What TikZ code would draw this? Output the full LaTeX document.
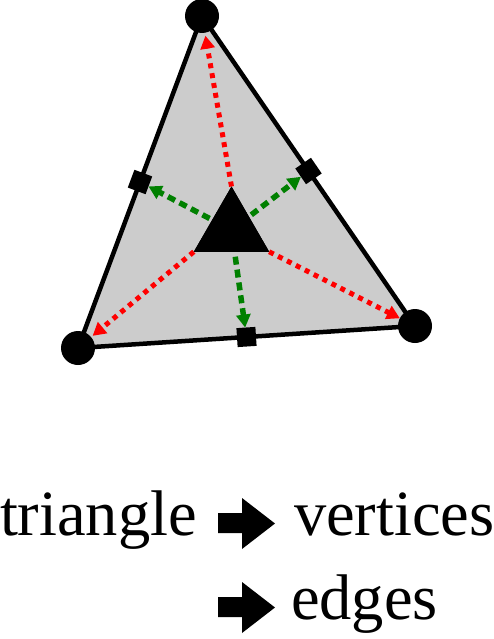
\documentclass[tikz,border=0pt]{standalone}
\usepackage{fontspec}
\setmainfont{Liberation Serif}
\usetikzlibrary{arrows.meta,shapes.geometric,calc,backgrounds}
\definecolor{facegray}{HTML}{CCCCCC}
\definecolor{edgegreen}{HTML}{008000}
\definecolor{vertred}{HTML}{FF0000}
\tikzset{
  vertexdot/.style={circle,fill=black,draw=none,minimum size=34pt,inner sep=0pt,outer sep=0pt},
  edgesq/.style={rectangle,fill=black,draw=none,minimum size=19pt,inner sep=0pt,outer sep=0pt},
  facetri/.style={regular polygon,regular polygon sides=3,fill=black,draw=none,minimum size=87pt,inner sep=0pt,outer sep=0pt},
  greenarrow/.style={edgegreen,line width=5.5pt,dash pattern=on 8pt off 5pt,-{Triangle[length=13pt,width=14pt]}},
  redarrow/.style={vertred,line width=5pt,dash pattern=on 5pt off 5pt,-{Triangle[length=13pt,width=14pt]}},
  label/.style={font=\fontsize{64.5}{70}\selectfont,inner sep=0pt,outer sep=0pt,anchor=base west},
  blockarrow/.style={fill=black,draw=none}
}
\begin{document}
\begin{tikzpicture}[x=1pt,y=-1pt]
\useasboundingbox (0,0) rectangle (494,639);
% vertices
\node[vertexdot] (top) at (202,16) {};
\node[vertexdot] (bl) at (78,348) {};
\node[vertexdot] (br) at (415,326) {};
% face
\begin{pgfonlayer}{background}
\filldraw[fill=facegray,draw=black,line width=4.5pt,line join=miter] (top.center) -- (bl.center) -- (br.center) -- cycle;
\end{pgfonlayer}
% edge midpoints
\node[edgesq,rotate=69.5] (el) at ($(top)!0.5!(bl)$) {};
\node[edgesq,rotate=-55.5] (er) at ($(top)!0.5!(br)$) {};
\node[edgesq,rotate=3.7] (eb) at ($(bl)!0.5!(br)$) {};
% centre triangle
\node[facetri] (tri) at (231.5,230) {};
% arrows
\draw[redarrow,shorten >=3pt] (tri.corner 1) -- (top);
\draw[redarrow,shorten >=2pt] (tri.corner 2) -- (bl);
\draw[redarrow] (tri.corner 3) -- (br);
\draw[greenarrow,shorten <=3pt] (tri) -- (el);
\draw[greenarrow,shorten <=3pt] (tri) -- (er);
\draw[greenarrow,shorten <=5pt] (tri) -- (eb);
\node[facetri] (tri2) at (tri) {};
% legend
\node[label] (t1) at (0,535) {triangle};
\node[label] (t2) at (294,535) {vertices};
\node[label] (t3) at (291,619) {edges};
\path[blockarrow] (218,513) -- (242,513) -- (242,498) -- (275,523.5) -- (242,549) -- (242,533) -- (218,533) -- cycle;
\path[blockarrow] (218,597) -- (242,597) -- (242,582) -- (275,607.5) -- (242,633) -- (242,617) -- (218,617) -- cycle;
\end{tikzpicture}
\end{document}
